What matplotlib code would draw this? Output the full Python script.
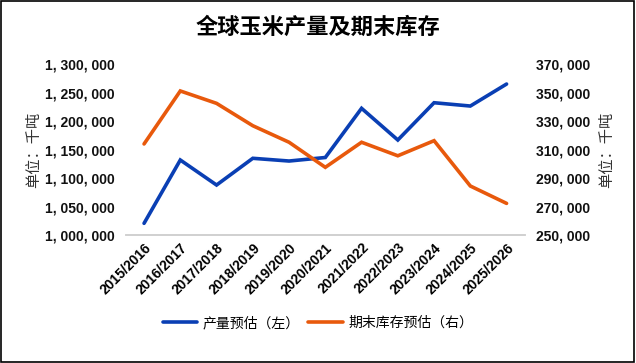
import matplotlib.pyplot as plot
import matplotlib.ticker as ticker
from matplotlib.patches import Rectangle

plot.rcParams["font.family"] = ["Noto Sans CJK SC", "DejaVu Sans"]

seasons = [
    "2015/2016", "2016/2017", "2017/2018", "2018/2019", "2019/2020", "2020/2021",
    "2021/2022", "2022/2023", "2023/2024", "2024/2025", "2025/2026",
]
production = [
    1020500, 1131600, 1087700, 1134600, 1129800, 1136000,
    1222300, 1166700, 1232100, 1226300, 1264900,
]
ending_stocks = [
    313900, 351100, 342400, 326700, 315100, 297500,
    315100, 305600, 316200, 284400, 272200,
]
left_ticks = [1000000, 1050000, 1100000, 1150000, 1200000, 1250000, 1300000]
right_ticks = [250000, 270000, 290000, 310000, 330000, 350000, 370000]

BLUE = "#0a3fb4"
ORANGE = "#e8590c"

figure = plot.figure(figsize=(6.36, 3.63), dpi=100)
figure.patch.set_facecolor("white")
figure.patches.append(
    Rectangle((0.002, 0.003), 0.995, 0.994, transform=figure.transFigure,
              fill=False, edgecolor="black", linewidth=1.2)
)

axes = figure.add_axes([0.198, 0.3526, 0.627, 0.471])
axes2 = axes.twinx()

x = list(range(len(seasons)))
line1, = axes.plot(x, production, color=BLUE, linewidth=2.6, label="产量预估（左）",
                   solid_capstyle="round", solid_joinstyle="miter")
line2, = axes2.plot(x, ending_stocks, color=ORANGE, linewidth=2.6, label="期末库存预估（右）",
                    solid_capstyle="round", solid_joinstyle="miter")

axes.set_xlim(-0.5, len(seasons) - 0.5)
axes.set_ylim(left_ticks[0], left_ticks[-1])
axes.set_yticks(left_ticks)
axes2.set_ylim(right_ticks[0], right_ticks[-1])
axes2.set_yticks(right_ticks)

fmt = ticker.FuncFormatter(lambda v, p: "{:,}".format(int(v)).replace(",", ", "))
axes.yaxis.set_major_formatter(fmt)
axes2.yaxis.set_major_formatter(fmt)

for ax in (axes, axes2):
    for side in ("top", "left", "right"):
        ax.spines[side].set_visible(False)
    ax.spines["bottom"].set_color("#d0d0d0")
    ax.spines["bottom"].set_linewidth(1.2)
    ax.tick_params(axis="y", length=0, pad=8)
    for label in ax.get_yticklabels():
        label.set_fontfamily("Liberation Sans")
        label.set_fontweight("bold")
        label.set_fontsize(10)
        label.set_color("#111111")

axes.set_xticks(x)
axes.set_xticklabels(seasons, rotation=45, ha="right", rotation_mode="anchor",
                     fontfamily="Liberation Sans", fontweight="bold", fontsize=10)
axes.tick_params(axis="x", length=0, pad=4)

axes.set_ylabel("单位：千吨", fontsize=11, color="#333333", labelpad=2)
axes2.set_ylabel("单位：千吨", fontsize=11, color="#333333", rotation=90, labelpad=6)

figure.text(0.5, 0.925, "全球玉米产量及期末库存", ha="center", va="center",
            fontsize=16, fontweight="bold")

figure.legend(handles=[line1, line2], loc="center", bbox_to_anchor=(0.5, 0.11),
              ncol=2, frameon=False, fontsize=10, handlelength=2.5,
              handletextpad=0.4, columnspacing=0.6)

figure.savefig("out.png", dpi=100)
